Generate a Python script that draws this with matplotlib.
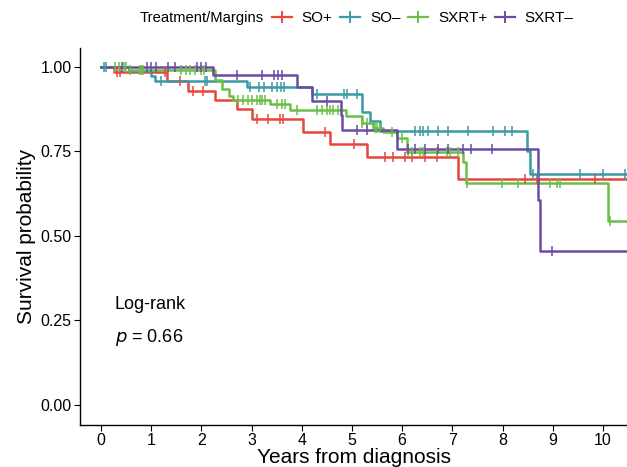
import numpy as np
import matplotlib
matplotlib.use("Agg")
import matplotlib.pyplot as plt
from matplotlib.lines import Line2D

plt.rcParams['font.family'] = ['Liberation Sans', 'DejaVu Sans']

# step curves: drop times and survival after each drop
so_pos_t = [0, 0.25, 1.31, 1.74, 2.27, 2.7, 3.0, 4.03, 4.57, 5.29, 7.12]
so_pos_s = [1.0, 0.985, 0.957, 0.927, 0.903, 0.874, 0.844, 0.808, 0.771, 0.734, 0.667]
so_pos_cens = [0.31, 0.38, 1.27, 1.57, 1.84, 2.04, 3.1, 3.33, 3.57, 3.63, 4.46, 5.03,
               5.66, 5.82, 6.06, 6.19, 6.45, 6.69, 8.45, 8.68, 9.84]

so_neg_t = [0, 0.55, 1.0, 1.08, 2.9, 4.2, 5.19, 5.36, 5.56, 8.48, 8.55]
so_neg_s = [1.0, 0.987, 0.972, 0.957, 0.94, 0.92, 0.865, 0.838, 0.81, 0.75, 0.683]
so_neg_cens = [0.05, 0.1, 1.2, 2.07, 2.12, 2.97, 3.15, 3.25, 3.4, 3.5, 3.58, 3.65, 4.3,
               4.85, 4.9, 5.1, 6.25, 6.35, 6.42, 6.52, 6.72, 6.92, 7.32, 7.81, 8.05,
               8.18, 8.6, 8.7, 9.54, 10.0, 10.44]

sxrt_pos_t = [0, 0.55, 2.27, 2.4, 2.54, 2.63, 3.37, 3.76, 4.89, 5.19, 5.42, 5.62, 5.89,
              6.09, 7.22, 7.27, 10.1]
sxrt_pos_s = [1.0, 0.99, 0.96, 0.933, 0.913, 0.903, 0.889, 0.873, 0.853, 0.833, 0.82,
              0.808, 0.789, 0.747, 0.719, 0.655, 0.545]
sxrt_pos_cens = [0.28, 0.35, 0.45, 0.5, 0.58, 0.78, 0.8, 0.84, 1.6, 1.7, 1.78, 1.87, 2.0,
                 2.05, 2.73, 2.83, 2.93, 3.0, 3.1, 3.17, 3.2, 3.27, 3.5, 3.6, 3.67, 3.9,
                 4.3, 4.4, 4.5, 4.56, 4.63, 4.73, 5.2, 5.3, 5.45, 5.5, 5.55, 5.8, 6.0,
                 6.12, 6.19, 6.36, 6.42, 6.69, 6.89, 6.95, 7.12, 7.3, 7.98, 8.31, 8.94,
                 9.08, 9.14, 10.14]

sxrt_neg_t = [0, 2.24, 3.9, 4.2, 4.78, 4.8, 5.89, 8.71, 8.75]
sxrt_neg_s = [1.0, 0.975, 0.94, 0.90, 0.858, 0.813, 0.757, 0.605, 0.456]
sxrt_neg_cens = [0.41, 0.91, 1.0, 1.1, 1.34, 1.47, 1.91, 2.0, 2.1, 2.7, 3.2, 3.45, 3.52,
                 3.6, 4.5, 5.1, 5.3, 6.12, 6.25, 6.45, 6.72, 6.92, 7.22, 7.38, 7.78, 8.98]

labels = ['SO+', 'SO\u2013', 'SXRT+', 'SXRT\u2013']
colors = ['#E8453C', '#3A9AA6', '#6BBF47', '#6A4CA5']
groups = [
    (so_pos_t, so_pos_s, so_pos_cens),
    (so_neg_t, so_neg_s, so_neg_cens),
    (sxrt_pos_t, sxrt_pos_s, sxrt_pos_cens),
    (sxrt_neg_t, sxrt_neg_s, sxrt_neg_cens),
]
t_end = 10.6

fig = plt.figure(figsize=(6.27, 4.67), dpi=100)
ax = fig.add_axes([0.1276, 0.0899, 0.8724, 0.807])

for (t, s, cens), col in zip(groups, colors):
    tt = np.array(t + [t_end])
    ss = np.array(s + [s[-1]])
    ax.step(tt, ss, where='post', color=col, lw=1.8, zorder=3)
    cens = np.array(cens)
    idx = np.searchsorted(np.array(t), cens, side='right') - 1
    ax.plot(cens, np.array(s)[idx], ls='none', marker='|', ms=7, mew=1.1,
            color=col, zorder=4)

ax.set_xlim(-0.42, 10.48)
ax.set_ylim(-0.06, 1.055)
ax.set_xticks(range(0, 11))
ax.set_yticks([0, 0.25, 0.5, 0.75, 1.0])
ax.set_yticklabels(['0.00', '0.25', '0.50', '0.75', '1.00'])
ax.tick_params(labelsize=11.5, length=4, width=0.8, colors='black', pad=2)
for sp in ['top', 'right']:
    ax.spines[sp].set_visible(False)
for sp in ['left', 'bottom']:
    ax.spines[sp].set_linewidth(1.0)
ax.set_xlabel('Years from diagnosis', fontsize=15, labelpad=0)
ax.set_ylabel('Survival probability', fontsize=15, labelpad=3)

ax.text(0.27, 0.298, 'Log-rank', fontsize=13, va='center', ha='left')
ax.text(0.27, 0.2, r'$p$ = 0.66', fontsize=13, va='center', ha='left')

fig.text(140 / 627, 1 - 18 / 467, 'Treatment/Margins', fontsize=10.6,
         va='center', ha='left')
handles = [Line2D([], [], color=c, lw=1.6, marker='+', ms=8, mew=1.4) for c in colors]
fig.legend(handles, labels, ncol=4, frameon=False, fontsize=11,
           loc='center left', bbox_to_anchor=(272 / 627, 1 - 18 / 467),
           handlelength=1.3, handletextpad=0.65, columnspacing=0.5,
           borderaxespad=0, borderpad=0)

fig.savefig('out.png', dpi=100)
